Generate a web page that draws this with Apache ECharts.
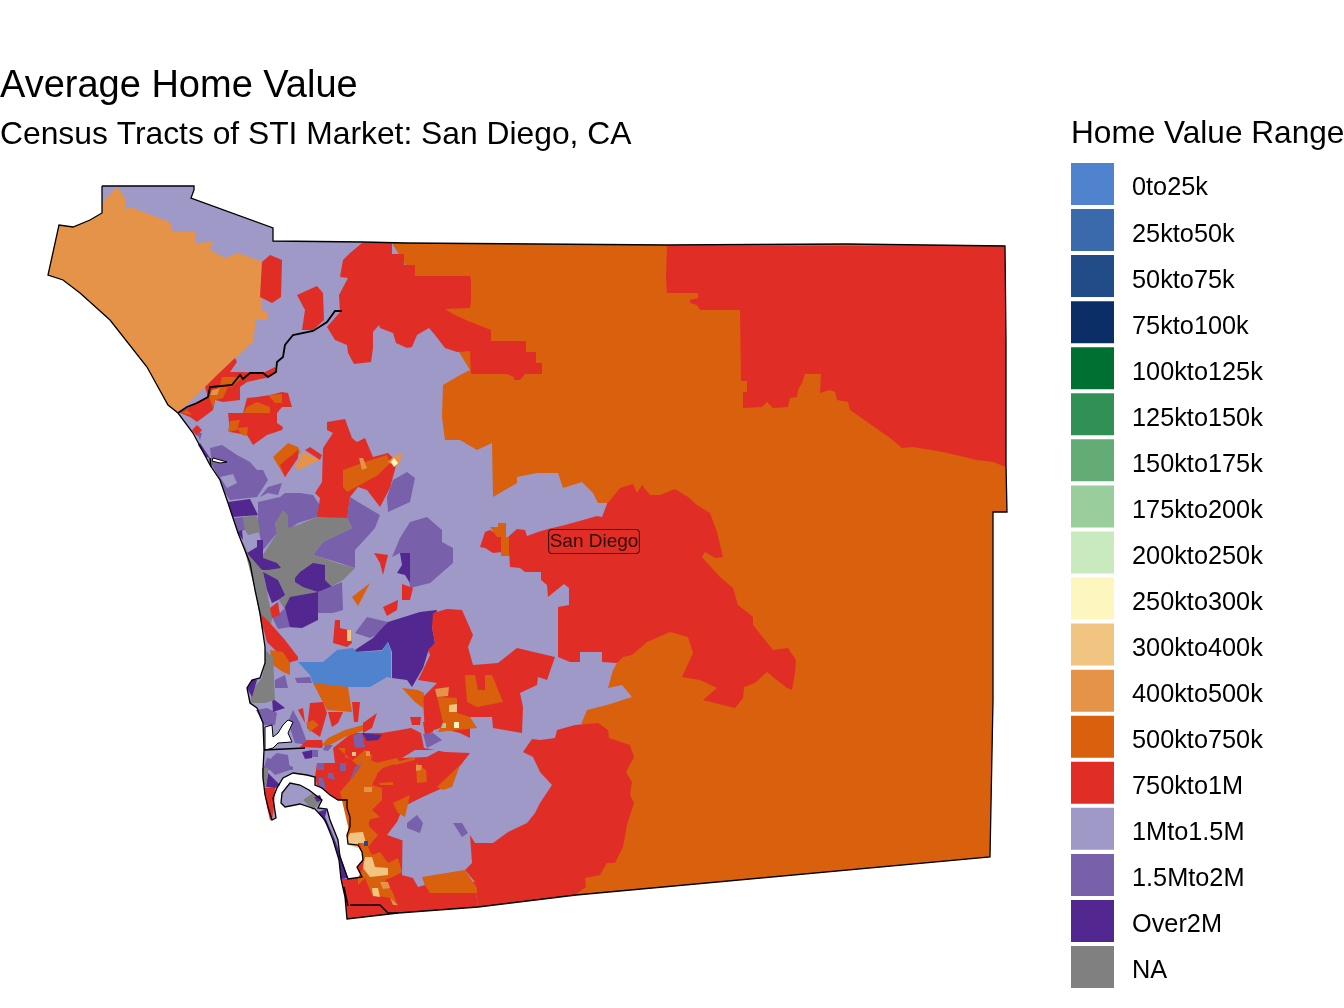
<!DOCTYPE html>
<html>
<head>
<meta charset="utf-8">
<title>Average Home Value</title>
<script src="https://cdn.jsdelivr.net/npm/echarts@6/dist/echarts.min.js"></script>
<style>
  html, body { margin: 0; padding: 0; background: #fff; }
  #chart { width: 1344px; height: 1008px; }
</style>
</head>
<body>
<div id="chart"></div>
<script>
var bands = ['0to25k', '25kto50k', '50kto75k', '75kto100k', '100kto125k', '125kto150k', '150kto175k', '175kto200k', '200kto250k', '250kto300k', '300kto400k', '400kto500k', '500kto750k', '750kto1M', '1Mto1.5M', '1.5Mto2M', 'Over2M', 'NA']
var bandColors = ['#5083CE', '#3A69AC', '#214C87', '#0C2E66', '#006F32', '#319155', '#64AC75', '#99CE9C', '#C9E9BF', '#FEF6BF', '#F2C482', '#E59349', '#D9600D', '#E02E27', '#9E99C7', '#7860AA', '#522790', '#808080']

// county boundary, in the map's own units (y grows southwards)
var countyLine = [102,186, 194,186, 194,190, 191,198, 273,228, 273,241, 363,242, 405,243, 667,245, 846,244, 1005,246, 1006,340, 1006,465, 1007,512, 993,512, 993,700, 990,857, 576,895, 478,907, 398,913, 347,919, 345,897, 341,879, 339,860, 333,840, 325,820, 315,809, 300,804, 285,807, 281,803, 282,793, 290,783, 300,785, 309,790, 322,800, 318,808, 327,809, 330,820, 338,840, 340,857, 348,879, 362,877, 357,867, 363,860, 362,852, 358,845, 348,844, 347,835, 350,827, 350,817, 347,808, 347,800, 338,800, 330,795, 322,788, 315,785, 315,777, 307,775, 293,773, 283,778, 277,788, 273,798, 276,818, 272,820, 268,807, 265,795, 263,778, 263,770, 264,750, 263,723, 257,708, 250,703, 247,688, 252,680, 260,678, 265,663, 265,647, 260,613, 255,590, 250,563, 238,533, 228,503, 220,480, 210,465, 193,433, 178,413, 168,405, 147,367, 110,320, 80,293, 63,280, 48,275, 59,225, 73,227, 90,220, 102,213]
var riverLine = [342,311, 335,311, 327,322, 313,331, 293,335, 285,345, 283,357, 277,362, 276,372, 268,377, 263,373, 250,373, 243,379, 240,375, 232,385, 210,387, 208,397, 197,403, 187,407, 178,413]
var shoreLines = [
  [264,750, 305,748],
  [350,905, 380,905, 388,913, 398,913],
  [344,887, 346,897, 348,906],
  [210,458, 211,467]
]
var waterShapes = [
  [265,727, 272,725, 273,737, 278,733, 283,725, 288,720, 293,722, 288,733, 292,742, 278,743, 273,748, 265,750],
  [213,458, 227,462, 220,463, 212,461]
]

// painted in order, later tracts lie over earlier ones
var tracts = [
  ['1Mto1.5M', countyLine],
  ['500kto750k', [392,243, 667,245, 846,244, 1005,246, 1006,465, 1007,512, 993,512, 993,700, 990,857, 576,895, 560,880, 560,800, 582,722, 587,710, 607,705, 632,697, 622,685, 608,688, 613,670, 617,663, 600,620, 607,503, 598,503, 593,493, 582,482, 563,488, 558,473, 537,473, 517,477, 517,483, 493,497, 492,443, 477,450, 460,440, 445,440, 442,417, 443,385, 460,375, 470,370]],
  ['400kto500k', [117,187, 125,198, 125,210, 130,207, 170,222, 173,232, 195,232, 195,243, 213,242, 210,250, 225,258, 238,253, 263,262, 262,310, 267,312, 267,319, 256,320, 253,342, 230,363, 178,413, 168,405, 147,367, 110,320, 80,293, 63,280, 48,275, 59,225, 73,227, 90,220, 102,213, 103,202]],
  ['750kto1M', [270,255, 282,260, 281,297, 272,303, 260,297, 262,262]],
  ['750kto1M', [297,295, 317,286, 323,293, 324,320, 313,330, 302,330, 305,310]],
  ['750kto1M', [362,243, 378,242, 392,243, 392,254, 404,254, 404,265, 415,265, 415,276, 470,276, 471,280, 471,300, 470,308, 445,309, 453,314, 468,321, 491,330, 491,341, 526,341, 526,352, 536,352, 536,363, 542,363, 542,374, 525,374, 520,380, 514,380, 514,377, 507,374, 471,374, 470,351, 457,352, 445,348, 435,335, 429,328, 417,335, 412,347, 407,348, 396,343, 393,333, 380,328, 379,325, 373,332, 373,348, 371,362, 354,364, 348,353, 347,345, 335,340, 327,327, 340,312, 339,295, 348,278, 340,277, 343,260, 350,253]],
  ['750kto1M', [667,246, 1005,246, 1006,340, 1006,467, 993,462, 977,460, 943,452, 913,447, 902,448, 890,438, 850,410, 848,402, 837,400, 835,392, 830,390, 820,393, 821,374, 805,374, 802,383, 798,390, 797,397, 790,398, 788,407, 773,408, 767,402, 762,407, 743,408, 743,392, 747,392, 747,381, 741,381, 740,310, 700,310, 697,305, 690,303, 690,300, 698,298, 698,293, 667,293, 666,277]],
  ['750kto1M', [508,537, 517,529, 525,530, 527,536, 538,532, 548,529, 565,525, 583,520, 597,516, 602,517, 607,504, 620,488, 633,484, 637,493, 642,485, 650,495, 660,495, 675,489, 688,497, 697,505, 710,513, 717,532, 723,557, 715,558, 705,552, 702,557, 720,577, 733,588, 738,605, 753,617, 753,625, 773,650, 788,648, 796,660, 795,673, 792,690, 787,688, 773,677, 767,672, 755,683, 744,687, 743,698, 735,708, 703,700, 717,688, 700,680, 682,677, 693,653, 688,637, 670,632, 647,642, 632,655, 623,657, 617,663, 602,662, 602,652, 580,652, 580,662, 570,662, 558,657, 558,607, 569,605, 569,588, 564,584, 548,597, 547,585, 541,580, 541,572, 525,572, 520,568, 510,567]],
  ['750kto1M', [480,547, 485,532, 490,530, 502,537, 502,552, 493,553, 485,548]],
  ['500kto750k', [490,527, 498,527, 498,523, 506,523, 506,537, 509,537, 509,556, 501,556, 501,537, 497,537]],
  // north coast
  ['750kto1M', [205,387, 215,377, 235,358, 237,362, 230,372, 240,372, 263,373, 275,367, 277,372, 270,377, 247,382, 240,387, 240,400, 223,402, 215,400, 213,410, 197,422, 190,417, 180,413, 197,402, 208,397]],
  ['500kto750k', [222,377, 242,377, 232,387, 220,385]],
  ['500kto750k', [209,397, 220,387, 228,387, 223,398, 215,400, 213,408]],
  ['400kto500k', [212,390, 220,388, 217,395, 210,395]],
  ['500kto750k', [182,413, 187,410, 192,415]],
  ['750kto1M', [197,425, 202,430, 197,436, 192,430]],
  ['750kto1M', [228,413, 243,413, 247,398, 257,397, 270,395, 282,392, 288,393, 292,407, 282,407, 277,413, 277,423, 283,427, 282,430, 267,435, 253,445, 247,435, 230,432]],
  ['500kto750k', [243,413, 247,407, 257,402, 270,407, 270,413]],
  ['500kto750k', [268,395, 282,394, 282,403, 275,403]],
  ['500kto750k', [230,421, 240,420, 237,430, 228,432]],
  ['500kto750k', [237,428, 248,427, 247,436, 242,435]],
  ['1.5Mto2M', [197,433, 202,433, 200,440]],
  ['Over2M', [200,443, 210,458, 206,457, 198,445]],
  ['1.5Mto2M', [210,448, 222,445, 237,455, 250,462, 257,470, 263,470, 268,480, 257,497, 230,500, 225,493, 220,480, 212,465]],
  ['1Mto1.5M', [220,477, 233,474, 237,483, 227,488]],
  ['1.5Mto2M', [258,502, 280,497, 285,493, 300,493, 313,495, 321,507, 317,517, 298,523, 288,530, 283,510, 285,520, 275,523, 277,533, 263,550, 258,527]],
  ['1.5Mto2M', [260,497, 268,487, 282,483, 278,495, 268,493]],
  // rancho santa fe side
  ['750kto1M', [327,422, 345,419, 352,438, 357,442, 365,438, 373,457, 388,453, 397,462, 390,488, 380,507, 367,490, 358,487, 350,497, 347,520, 317,517, 320,498, 315,493, 322,482, 323,448, 333,433, 327,430]],
  ['500kto750k', [343,470, 365,462, 387,455, 390,463, 378,475, 360,485, 347,492, 343,487]],
  ['400kto500k', [359,458, 363,458, 367,468, 362,470]],
  ['400kto500k', [388,462, 395,455, 403,454, 397,467]],
  ['250kto300k', [391,462, 394,458, 398,463, 394,467]],
  ['500kto750k', [273,457, 288,443, 298,447, 300,452, 285,477]],
  ['750kto1M', [280,465, 298,450, 298,458, 285,477]],
  ['400kto500k', [295,467, 303,452, 320,460, 313,463, 298,470]],
  ['750kto1M', [305,450, 310,447, 322,455, 320,460]],
  ['1.5Mto2M', [350,497, 358,502, 380,515, 375,528, 367,537, 355,550, 355,568, 340,563, 313,555, 323,542, 352,528, 347,518]],
  ['NA', [283,510, 288,515, 288,528, 298,525, 317,517, 347,518, 352,528, 323,542, 313,555, 337,563, 355,568, 343,580, 330,587, 320,593, 318,600, 287,613, 277,597, 263,572, 260,563, 263,555, 277,533, 275,523]],
  ['NA', [242,540, 248,553, 258,563, 263,572, 270,607, 273,613, 270,630, 262,630, 255,590, 248,563]],
  ['NA', [243,517, 257,515, 260,532, 248,535, 245,530]],
  ['Over2M', [228,502, 250,499, 258,515, 233,517]],
  ['1.5Mto2M', [233,518, 243,517, 245,530, 238,532]],
  ['Over2M', [237,532, 243,540, 242,530]],
  ['Over2M', [257,540, 263,540, 263,558, 277,563, 281,568, 268,570, 262,570, 255,562, 247,553, 257,547]],
  ['Over2M', [295,578, 300,572, 313,563, 325,565, 325,580, 332,587, 318,592, 303,587, 295,582]],
  ['Over2M', [285,607, 290,597, 318,592, 318,620, 302,628, 288,627]],
  ['Over2M', [263,572, 278,580, 285,595, 278,600, 272,603, 267,590]],
  ['1.5Mto2M', [318,592, 342,582, 343,610, 333,613, 318,613]],
  ['1.5Mto2M', [272,617, 280,613, 285,608, 290,627, 278,629]],
  ['750kto1M', [270,608, 278,602, 280,615, 272,618]],
  ['750kto1M', [260,613, 270,623, 285,640, 298,657, 298,660, 288,663, 275,650, 267,642, 263,627]],
  ['500kto750k', [270,650, 283,652, 290,663, 290,675, 283,672, 273,665]],
  // inland north of the metro
  ['1.5Mto2M', [393,480, 407,472, 415,478, 410,502, 388,512, 387,497]],
  ['1.5Mto2M', [392,557, 400,538, 410,522, 427,517, 442,530, 442,542, 453,548, 453,563, 430,583, 410,588, 408,563, 400,553]],
  ['Over2M', [400,553, 410,553, 410,583, 405,575, 397,573, 402,565]],
  ['750kto1M', [402,584, 413,588, 410,600, 402,600]],
  ['750kto1M', [383,607, 398,600, 397,610, 387,616]],
  ['750kto1M', [374,553, 388,555, 383,575, 380,563]],
  ['500kto750k', [352,597, 370,583, 358,606]],
  ['1.5Mto2M', [355,633, 367,617, 388,622, 380,633, 370,638]],
  ['Over2M', [355,650, 373,638, 388,622, 420,612, 437,610, 432,627, 435,643, 428,652, 423,668, 412,687, 407,680, 392,678, 392,652, 388,642, 382,650, 355,652]],
  ['0to25k', [298,662, 323,662, 337,650, 353,648, 357,652, 382,651, 388,642, 391,652, 391,678, 387,677, 370,687, 348,687, 327,690, 313,683, 310,675]],
  ['750kto1M', [433,613, 447,609, 462,610, 473,635, 468,647, 473,665, 498,663, 517,648, 555,657, 547,680, 538,677, 537,685, 520,693, 523,707, 522,733, 493,728, 492,717, 470,717, 470,738, 460,733, 440,728, 425,733, 423,700, 418,702, 437,683, 418,680, 423,670, 430,655, 428,650, 435,643, 432,627]],
  ['500kto750k', [437,697, 457,698, 457,713, 470,717, 477,728, 438,732, 443,722]],
  ['400kto500k', [435,689, 449,687, 448,696, 437,697]],
  ['300kto400k', [449,705, 457,704, 457,712, 449,712]],
  ['250kto300k', [454,722, 459,722, 459,728, 454,728]],
  ['175kto200k', [443,723, 446,723, 446,728, 441,728]],
  ['500kto750k', [465,675, 475,675, 478,690, 485,690, 485,675, 492,675, 503,702, 477,707, 467,702]],
  ['500kto750k', [402,688, 418,690, 424,693, 423,708, 415,702]],
  ['750kto1M', [410,717, 421,717, 420,725, 412,725]],
  ['750kto1M', [423,722, 433,723, 433,732, 425,735]],
  ['750kto1M', [335,620, 340,620, 340,628, 348,630, 352,643, 347,647, 333,643]],
  ['300kto400k', [347,630, 351,630, 351,641, 347,641]],
  ['500kto750k', [313,683, 348,687, 352,712, 327,710]],
  ['750kto1M', [310,703, 323,702, 327,713, 320,737, 307,728]],
  ['750kto1M', [328,712, 343,712, 338,723, 332,727]],
  ['750kto1M', [352,702, 360,702, 358,722, 354,722]],
  ['500kto750k', [306,723, 313,720, 319,725, 310,732]],
  ['750kto1M', [298,710, 303,708, 305,723]],
  ['1.5Mto2M', [275,680, 285,675, 288,688, 275,688]],
  ['1.5Mto2M', [295,678, 310,677, 312,683, 297,683]],
  ['1.5Mto2M', [293,710, 300,723, 308,745, 295,743, 288,722]],
  ['1.5Mto2M', [256,710, 267,708, 277,713, 275,725, 264,725]],
  ['Over2M', [272,698, 285,708, 273,712]],
  ['NA', [265,650, 273,657, 275,700, 265,703, 250,703, 252,690, 262,678, 265,663]],
  ['Over2M', [247,688, 252,680, 257,680, 252,697]],
  // metro
  ['750kto1M', [300,747, 307,740, 322,740, 323,745, 322,748]],
  ['750kto1M', [317,785, 315,777, 317,763, 335,763, 333,748, 352,733, 382,733, 400,730, 411,728, 421,733, 424,748, 445,752, 470,753, 470,760, 460,766, 450,783, 443,788, 423,797, 403,807, 402,875, 475,882, 476,894, 478,907, 398,913, 347,919, 345,897, 341,879, 348,879, 362,877, 357,867, 363,860, 362,852, 358,845, 348,844, 347,835, 350,827, 350,817, 347,808, 347,800, 338,800, 330,795, 322,788]],
  ['1Mto1.5M', [402,810, 397,822, 387,835, 407,842, 423,838, 433,833, 440,825, 445,835, 453,842, 456,846, 447,848, 437,845, 430,849, 408,852, 402,875, 413,878, 418,887, 425,885, 423,877, 465,870, 470,863, 470,753, 460,766, 450,783, 443,788, 423,797, 403,807]],
  ['1.5Mto2M', [407,823, 417,815, 423,823, 420,833, 407,828]],
  ['1.5Mto2M', [453,823, 462,823, 468,833, 462,837]],
  ['500kto750k', [340,792, 352,778, 360,767, 365,758, 378,763, 377,775, 372,785, 382,788, 382,800, 372,810, 380,817, 368,820, 370,830, 375,838, 365,847, 350,835]],
  ['500kto750k', [350,813, 372,813, 368,825, 378,835, 368,847, 372,855, 380,852, 388,863, 398,858, 402,872, 393,877, 385,880, 393,893, 398,907, 390,898, 372,895, 365,878, 358,885, 358,878, 363,868, 363,857, 360,842, 347,840]],
  ['500kto750k', [338,748, 345,748, 345,757, 353,760, 365,750, 372,755, 370,765, 380,762, 397,758, 400,762, 383,768, 372,778]],
  ['500kto750k', [393,763, 415,757, 415,760, 395,765]],
  ['500kto750k', [379,783, 393,782, 393,785, 380,785]],
  ['500kto750k', [416,763, 426,770, 427,782, 417,783]],
  ['400kto500k', [416,765, 422,765, 421,770, 416,771]],
  ['500kto750k', [437,787, 460,765, 452,787, 443,790]],
  ['500kto750k', [393,803, 410,795, 405,817, 398,813]],
  ['500kto750k', [322,745, 328,738, 345,730, 363,725, 365,730, 345,737, 328,746]],
  ['750kto1M', [363,723, 377,713, 372,728, 363,733]],
  ['1.5Mto2M', [423,734, 433,733, 442,740, 427,748]],
  ['1Mto1.5M', [402,758, 415,750, 440,750, 427,757]],
  ['1.5Mto2M', [353,735, 362,733, 365,747, 355,748]],
  ['Over2M', [362,733, 382,735, 378,740, 367,741]],
  ['300kto400k', [352,752, 356,752, 356,756, 352,756]],
  ['400kto500k', [366,751, 370,751, 370,756, 366,756]],
  ['400kto500k', [364,787, 372,787, 372,792, 364,792]],
  ['1.5Mto2M', [317,763, 324,763, 324,770, 317,770]],
  ['1.5Mto2M', [340,763, 346,763, 346,771, 340,771]],
  ['1.5Mto2M', [362,763, 352,778, 350,780, 355,767]],
  ['1.5Mto2M', [328,773, 333,773, 335,780, 328,778]],
  ['1.5Mto2M', [318,778, 323,778, 326,790, 320,788]],
  ['1.5Mto2M', [325,745, 333,745, 328,751, 323,750]],
  ['Over2M', [302,752, 312,750, 312,758, 305,759]],
  ['1.5Mto2M', [312,750, 318,750, 318,757, 312,757]],
  // south bay and the tan blocks by the border
  ['750kto1M', [575,725, 598,723, 608,730, 609,738, 630,745, 634,757, 626,772, 632,782, 630,795, 634,803, 627,825, 623,847, 615,863, 607,863, 600,875, 585,878, 586,887, 575,895, 478,907, 476,894, 475,882, 465,870, 472,863, 470,835, 475,843, 493,843, 508,832, 527,823, 535,813, 540,803, 552,785, 540,772, 533,757, 523,752, 532,739, 540,740, 555,738, 557,730]],
  ['500kto750k', [422,877, 465,870, 477,888, 477,893, 430,893, 425,885]],
  ['300kto400k', [347,840, 350,833, 363,832, 366,843, 358,843, 358,848, 348,845]],
  ['50kto75k', [364,841, 368,841, 368,846, 364,846]],
  ['300kto400k', [365,857, 372,857, 375,867, 388,868, 388,875, 370,877, 363,868]],
  ['300kto400k', [372,888, 378,888, 380,897, 373,896]],
  ['400kto500k', [380,882, 388,882, 390,888, 383,889]],
  ['400kto500k', [390,898, 398,905, 393,905]],
  // peninsula and north island
  ['1.5Mto2M', [267,758, 277,760, 293,767, 293,770, 263,770]],
  ['1.5Mto2M', [272,757, 277,753, 288,755, 290,770, 275,775, 268,768]],
  ['750kto1M', [264,788, 275,788, 274,807, 272,820, 270,820, 267,807]],
  ['Over2M', [266,787, 268,773, 280,785, 275,788]],
  ['NA', [262,768, 268,768, 268,775, 266,787, 263,783]],
  ['NA', [303,800, 313,793, 322,800, 313,810]],
  ['Over2M', [314,797, 320,795, 322,800, 317,802]],
  ['Over2M', [318,812, 327,809, 325,817, 333,835, 338,848, 343,863, 348,878, 341,879, 339,860, 332,835, 322,817]]
]
var cityName = 'San Diego'
var cityPoint = [594, -541.5]

function pairs(flat, close) {
  var out = []
  for (var i = 0; i < flat.length; i += 2) {
    out.push([flat[i], -flat[i + 1]])
  }
  if (close) out.push(out[0])
  return out
}

var features = []
var seriesData = []
tracts.forEach(function(t, i) {
  var name = 'tract' + i
  features.push({
    type: 'Feature',
    properties: { name: name },
    geometry: { type: 'Polygon', coordinates: [pairs(t[1], true)] }
  })
  seriesData.push({ name: name, value: bands.indexOf(t[0]) })
})

var regionStyles = []
waterShapes.forEach(function(s, i) {
  var name = 'water' + i
  features.push({
    type: 'Feature',
    properties: { name: name },
    geometry: { type: 'Polygon', coordinates: [pairs(s, true)] }
  })
  regionStyles.push({ name: name, itemStyle: { areaColor: '#fff', borderColor: '#000', borderWidth: 1 } })
})
function addLine(name, flat, close, width) {
  features.push({
    type: 'Feature',
    properties: { name: name },
    geometry: { type: 'LineString', coordinates: pairs(flat, close) }
  })
  regionStyles.push({ name: name, itemStyle: { borderColor: '#000', borderWidth: width } })
}
shoreLines.forEach(function(l, i) { addLine('shore' + i, l, false, 1.5) })
addLine('river', riverLine, false, 1.8)
addLine('county', countyLine, true, 1.3)

echarts.registerMap('sandiego', { type: 'FeatureCollection', features: features })

// legend labels sit a little under the swatch centres in the reference
var legendLabels = bands.map(function(b, i) {
  return {
    type: 'text',
    left: 1132,
    top: 176 + i * 46.06,
    style: { text: b, font: '25.3px "Liberation Sans"', fill: '#000' }
  }
})

var chart = echarts.init(document.getElementById('chart'))
chart.setOption({
  animation: false,
  backgroundColor: '#fff',
  title: [
    { text: 'Average Home Value', left: 0, top: 68, padding: 0, textStyle: { fontFamily: 'Liberation Sans', fontSize: 38, fontWeight: 'normal', color: '#000' } },
    { text: 'Census Tracts of STI Market: San Diego, CA', left: 0, top: 119, padding: 0, textStyle: { fontFamily: 'Liberation Sans', fontSize: 31.8, fontWeight: 'normal', color: '#000' } },
    { text: 'Home Value Range', left: 1071, top: 118, padding: 0, textStyle: { fontFamily: 'Liberation Sans', fontSize: 31.6, fontWeight: 'normal', color: '#000' } }
  ],
  graphic: legendLabels,
  visualMap: {
    type: 'piecewise',
    seriesIndex: 0,
    left: 1071,
    top: 163,
    padding: 0,
    orient: 'vertical',
    inverse: true,
    align: 'left',
    itemWidth: 43,
    itemHeight: 42,
    itemGap: 4.06,
    itemSymbol: 'rect',
    showLabel: false,
    selectedMode: false,
    hoverLink: false,
    pieces: bands.map(function(b, i) {
      return { value: i, label: b, color: bandColors[i] }
    })
  },
  geo: {
    map: 'sandiego',
    roam: false,
    silent: true,
    aspectScale: 1,
    left: 48,
    top: 186,
    width: 959,
    height: 733,
    label: { show: false },
    emphasis: { disabled: true },
    select: { disabled: true },
    itemStyle: { areaColor: '#fff', borderWidth: 0, borderColor: 'transparent' },
    regions: regionStyles
  },
  series: [
    {
      type: 'map',
      geoIndex: 0,
      silent: true,
      data: seriesData
    },
    {
      type: 'scatter',
      coordinateSystem: 'geo',
      silent: true,
      symbolSize: 0,
      data: [{ name: cityName, value: cityPoint }],
      label: {
        show: true,
        position: 'inside',
        formatter: '{b}',
        fontFamily: 'Liberation Sans',
        fontSize: 19,
        color: '#000',
        borderColor: '#000',
        borderWidth: 1,
        borderRadius: 3,
        padding: [4, 1, 1, 1]
      }
    }
  ]
})
</script>
</body>
</html>
